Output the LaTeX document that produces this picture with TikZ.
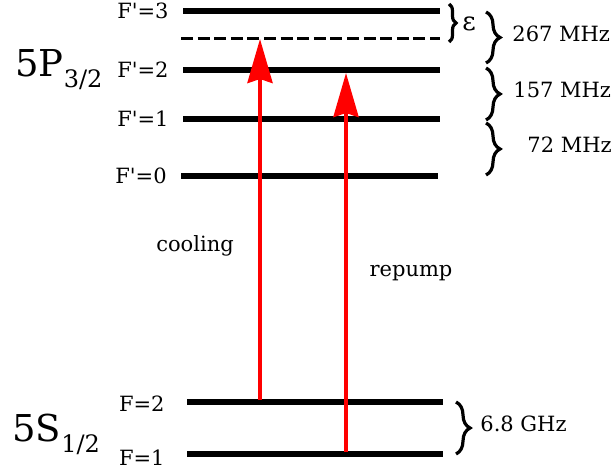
\documentclass[tikz,border=0pt]{standalone}
\usepackage{fontspec}
\setmainfont{DejaVu Serif}
\usetikzlibrary{arrows.meta, positioning, decorations.pathreplacing}

\begin{document}
\begin{tikzpicture}[
                x=0.5pt, y=-0.5pt, % pixel-like grid, y runs downwards
                level/.style={draw, line width=2.6pt},
                vlevel/.style={draw, line width=1.5pt, dash pattern=on 6pt off 2.3pt},
                laser/.style={draw, red, line width=2pt, -{Stealth[length=22pt, width=12.5pt, inset=2pt]}},
                flabel/.style={font=\fontsize{10.5}{12}\selectfont, inner sep=0pt},
                gaplabel/.style={font=\fontsize{10.5}{12}\selectfont, inner sep=0pt, anchor=west},
                hfsbrace/.style={draw, line width=1.6pt, decorate, decoration={brace, amplitude=#1}},
                state/.style={font=\fontsize{18.5}{22}\selectfont, inner sep=0pt, anchor=base west}
            ]
                \useasboundingbox (0,0) rectangle (613,469);

                % Level end points
                \coordinate (Fp3L) at (183,11);  \coordinate (Fp3R) at (440,11);
                \coordinate (detL) at (181,39);  \coordinate (detR) at (440,39);
                \coordinate (Fp2L) at (183,70);  \coordinate (Fp2R) at (440,70);
                \coordinate (Fp1L) at (183,119); \coordinate (Fp1R) at (440,119);
                \coordinate (Fp0L) at (181,176); \coordinate (Fp0R) at (438,176);
                \coordinate (F2L) at (187,402);  \coordinate (F2R) at (443,402);
                \coordinate (F1L) at (187,454);  \coordinate (F1R) at (443,454);

                % State names
                \node [state] (P32) at (15,77) {5P\raisebox{-5.5pt}{\fontsize{12}{14}\selectfont 3/2}};
                \node [state] (S12) at (12,441) {5S\raisebox{-5.5pt}{\fontsize{12}{14}\selectfont 1/2}};

                % Hyperfine levels
                \path [level] (Fp3L) -- (Fp3R);
                \path [vlevel] (detL) -- (detR);
                \path [level] (Fp2L) -- (Fp2R);
                \path [level] (Fp1L) -- (Fp1R);
                \path [level] (Fp0L) -- (Fp0R);
                \path [level] (F2L) -- (F2R);
                \path [level] (F1L) -- (F1R);

                \node [flabel, left=7pt of Fp3L] (lFp3) {F\textquotesingle=3};
                \node [flabel, left=7pt of Fp2L] (lFp2) {F\textquotesingle=2};
                \node [flabel, left=7pt of Fp1L] (lFp1) {F\textquotesingle=1};
                \node [flabel, left=7pt of Fp0L] (lFp0) {F\textquotesingle=0};
                \node [flabel, left=11pt of F2L, yshift=-1pt] (lF2) {F=2};
                \node [flabel, left=11pt of F1L, yshift=-2pt] (lF1) {F=1};

                % Lasers
                \coordinate (coolLow) at (260,400);
                \coordinate (coolUp) at (260,39);
                \coordinate (repLow) at (346,452);
                \coordinate (repUp) at (346,73);
                \path [laser] (coolLow) -- (coolUp);
                \path [laser] (repLow) -- (repUp);
                \node [flabel] (cool) at (195,246) {cooling};
                \node [flabel] (rep) at (411,273) {repump};

                % Splittings
                \path [hfsbrace=3.5pt] (449,4) -- (449,42);
                \node [flabel, font=\fontsize{13}{14}\selectfont] (eps) at (469,24) {ε};
                \path [hfsbrace=7pt] (486,12) -- (486,63);
                \node [gaplabel] (g267) at (512,34) {267 MHz};
                \path [hfsbrace=7pt] (486,68) -- (486,120);
                \node [gaplabel] (g157) at (513,90) {157 MHz};
                \path [hfsbrace=7pt] (486,123) -- (486,175);
                \node [gaplabel] (g72) at (527,145) {72 MHz};
                \path [hfsbrace=7pt] (456,402) -- (456,454);
                \node [gaplabel] (g68) at (480,424) {6.8 GHz};

            \end{tikzpicture}
\end{document}
